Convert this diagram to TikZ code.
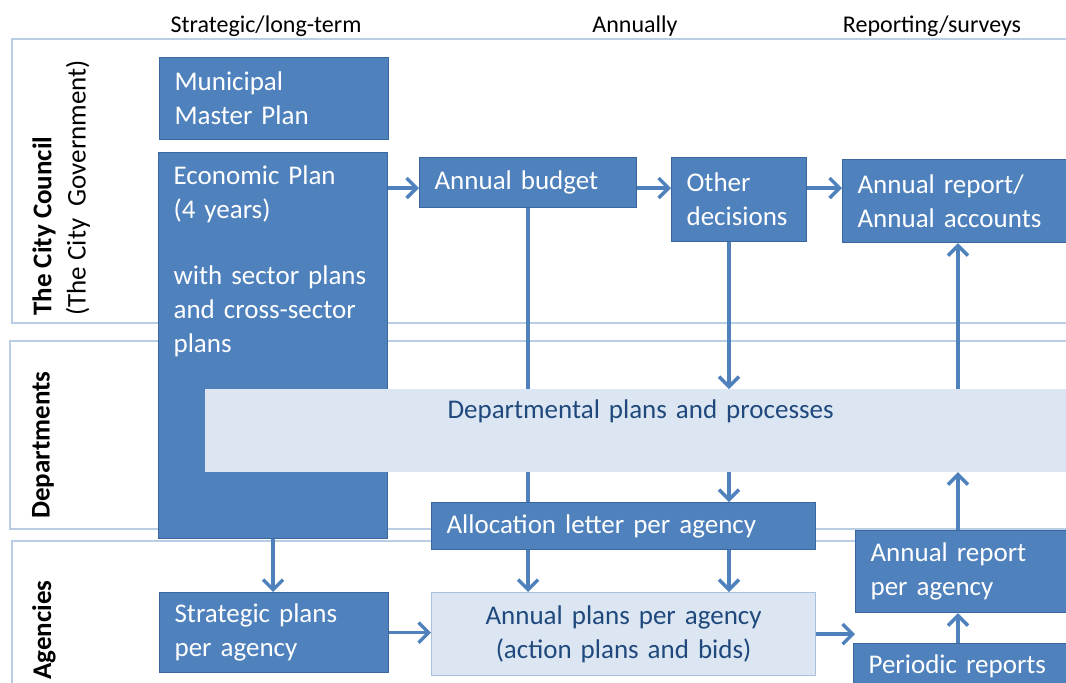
\documentclass[tikz,border=0pt]{standalone}
\usepackage{fontspec}
\setmainfont{Carlito}
\usepackage{tikz}
\usetikzlibrary{arrows.meta,backgrounds}

\definecolor{boxfill}{HTML}{4F81BD}
\definecolor{boxedge}{HTML}{3A67A0}
\definecolor{lightfill}{HTML}{DCE6F2}
\definecolor{lightedge}{HTML}{A9C1DF}
\definecolor{lighttext}{HTML}{1F497D}
\definecolor{laneline}{HTML}{B9CDE5}

\begin{document}
\begin{tikzpicture}[x=0.5pt, y=-0.5pt, >={Straight Barb[length=5pt,width=10pt]},
    darkbox/.style={draw=boxedge, line width=0.6pt, fill=boxfill, text=white, align=left,
        anchor=north west, inner xsep=7.5pt, inner ysep=2pt, font=\fontsize{13.5}{17}\selectfont},
    lightbox/.style={darkbox, draw=lightedge, fill=lightfill, text=lighttext, align=center},
    lane/.style={draw=laneline, line width=1.4pt},
    flow/.style={->, draw=boxfill, line width=1.7pt},
    lanelabel/.style={rotate=90, anchor=west, inner sep=0pt, font=\fontsize{13.5}{17}\selectfont\bfseries},
    colhead/.style={font=\fontsize{12}{14}\selectfont}]

    \useasboundingbox (0,0) rectangle (1066,682);

    % column headings
    \node[colhead] (hstrat)  at (266,26) {Strategic/long-term};
    \node[colhead] (hannual) at (635,26) {Annually};
    \node[colhead] (hreport) at (932,26) {Reporting/surveys};

    % lanes
    \node[lanelabel] (council) at (44,316) {The City Council};
    \node[lanelabel, font=\fontsize{13.5}{17}\selectfont] (gov) at (78,316) {(The City\ \ Government)};
    \node[lanelabel] (depts) at (43,519) {Departments};
    \node[lanelabel] (agencies) at (44,680) {Agencies};

    % boxes
    \node[darkbox, text width=99.5pt, minimum height=41pt] (master) at (159,57) {Municipal\\Master Plan};
    \node[darkbox, text width=99.5pt, inner ysep=6pt, text height=10pt, text depth=171pt] (econ) at (158,152)
        {Economic Plan\\(4 years)\\[16pt]with sector plans\\and cross-sector\\plans};
    \node[darkbox, text width=93.5pt, minimum height=25pt] (budget) at (419,157) {Annual budget};
    \node[darkbox, text width=52.5pt, minimum height=42pt] (other) at (671,157) {Other\\decisions};
    \node[darkbox, text width=101.5pt, minimum height=41.5pt] (report) at (842,159) {Annual report/\\Annual accounts};
    \node[lightbox, draw=lightfill, text width=420pt, inner ysep=4.5pt, text height=10pt, text depth=22pt] (dept) at (205,389)
        {Departmental plans and processes};
    \node[darkbox, text width=177pt, minimum height=23.5pt] (alloc) at (431,502) {Allocation letter per agency};
    \node[darkbox, text width=99.5pt, minimum height=40pt] (strat) at (159,592) {Strategic plans\\per agency};
    \node[lightbox, text width=177pt, minimum height=41.5pt] (plans) at (431,592) {Annual plans per agency\\(action plans and bids)};
    \node[darkbox, text width=95pt, minimum height=41pt] (agrep) at (855,530) {Annual report\\per agency};
    \node[darkbox, text width=96pt, minimum height=23pt] (periodic) at (853,643) {Periodic reports};

    \coordinate (rowA) at (0,188);
    \coordinate (colB) at (729,0);
    \coordinate (colC) at (958,0);

    \begin{scope}[on background layer]
        \draw[lane] (1080,39) -- (12,39) -- (12,323) -- (1080,323);
        \draw[lane] (1080,341) -- (10,341) -- (10,529) -- (1080,529);
        \draw[lane] (1080,541) -- (12,541) -- (12,700);

        \path[flow] (econ.east |- rowA) edge (budget.west |- rowA)
            (budget.east |- rowA) edge (other.west |- rowA)
            (other.east |- rowA) edge (report.west |- rowA)
            (budget.south) edge (budget.south |- plans.north)
            (other.south -| colB) edge (dept.north -| colB)
            (dept.south -| colB) edge (alloc.north -| colB)
            (alloc.south -| colB) edge (plans.north -| colB)
            (econ.south) edge (econ.south |- strat.north)
            (strat.east) edge (plans.west |- strat.east)
            (plans.east) edge (plans.east -| agrep.west)
            (periodic.north -| colC) edge (agrep.south -| colC)
            (agrep.north -| colC) edge (dept.south -| colC)
            (dept.north -| colC) edge (report.south -| colC)
            ;
    \end{scope}

\end{tikzpicture}
\end{document}
